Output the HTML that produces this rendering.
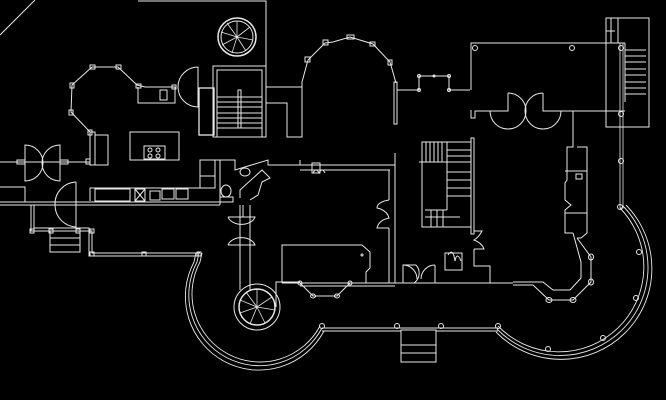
<!DOCTYPE html>
<html><head><meta charset="utf-8"><style>
html,body{margin:0;padding:0;background:#000;width:666px;height:400px;overflow:hidden}
svg{display:block}
</style></head><body>
<svg width="666" height="400" viewBox="0 0 666 400" xmlns="http://www.w3.org/2000/svg" fill="none" stroke="#e8e8e8" stroke-width="1">
<!-- top-left diagonal -->
<line x1="0" y1="35" x2="35" y2="0"/>
<!-- top box -->
<polyline points="138,1 266,1 266,66 213,66"/>
<circle cx="237" cy="37" r="19" stroke-width="1.5"/>
<circle cx="237" cy="37" r="16"/>
<g stroke-width="0.8">
<line x1="237" y1="37" x2="237" y2="21"/><line x1="237" y1="37" x2="250" y2="27"/><line x1="237" y1="37" x2="253" y2="40"/>
<line x1="237" y1="37" x2="246" y2="51"/><line x1="237" y1="37" x2="232" y2="53"/><line x1="237" y1="37" x2="222" y2="45"/>
<line x1="237" y1="37" x2="221" y2="32"/><line x1="237" y1="37" x2="227" y2="23"/></g>
<!-- left bay -->
<polyline points="90,132 71,112 72,85 92,67 118,67 137,85 145,87 175,87"/>
<rect x="88" y="130" width="4" height="5"/><rect x="69" y="110" width="4" height="5"/><rect x="70" y="83" width="4" height="5"/>
<rect x="90" y="65" width="5" height="4"/><rect x="116" y="65" width="5" height="4"/><rect x="136" y="84" width="5" height="4"/><rect x="172" y="85" width="4" height="4"/>
<polyline points="138,87 138,103 175,103 175,87"/>
<rect x="160" y="90" width="7" height="10"/>
<path d="M198,67 A20,20 0 0 0 198,107 Z"/>
<!-- main stair -->
<rect x="213" y="66" width="53" height="71"/>
<rect x="217" y="70" width="45" height="67"/>
<rect x="199" y="88" width="15" height="47" stroke-width="1.3"/>
<g><line x1="217" y1="97" x2="262" y2="97"/><line x1="217" y1="102" x2="262" y2="102"/><line x1="217" y1="107" x2="262" y2="107"/><line x1="217" y1="113" x2="262" y2="113"/><line x1="217" y1="118" x2="262" y2="118"/><line x1="217" y1="123" x2="262" y2="123"/><line x1="217" y1="128" x2="262" y2="128"/></g>
<rect x="238" y="90" width="3" height="38"/>
<!-- right of stair -->
<polyline points="266,87 302,87"/><polyline points="266,103 287,103 287,137 302,137 302,82"/>
<polyline points="302,82 308,60 325,43"/><rect x="305" y="57" width="5" height="5"/><rect x="323" y="40" width="5" height="5"/>
<!-- arch bay -->
<path d="M325,43 L333,42 L350,37 L373,44 L390,62 L396,83"/>
<rect x="347" y="35" width="7" height="4"/><rect x="370" y="42" width="5" height="4"/><rect x="388" y="60" width="4" height="5"/>
<rect x="394" y="82" width="3" height="42"/>
<polyline points="397,90 419,90 419,76 449,76 449,90 470,90"/>
<circle cx="419" cy="76" r="1.5"/><circle cx="449" cy="76" r="1.5"/><circle cx="419" cy="90" r="1.5"/><circle cx="449" cy="90" r="1.5"/><circle cx="434" cy="76" r="1"/>
<!-- big room -->
<polyline points="471,90 471,43 625,43"/>
<polyline points="471,110 471,118 475,118 475,111 508,111 508,93"/>
<path d="M508,93 A18,18 0 0 1 526,111 A18,18 0 0 1 508,129 A18,18 0 0 1 490,111"/>
<path d="M543,93 A18,18 0 0 0 525,111 A18,18 0 0 0 543,129 A18,18 0 0 0 561,111"/>
<polyline points="543,93 543,111 625,111"/>
<circle cx="475" cy="48" r="2.5"/><circle cx="572" cy="48" r="2.5"/><circle cx="621" cy="48" r="2.5"/><circle cx="621" cy="114" r="2.5"/><circle cx="621" cy="161" r="2.5"/>
<!-- right stairs -->
<rect x="606" y="18" width="43" height="109"/><line x1="625" y1="43" x2="625" y2="102"/>
<g><line x1="625" y1="50" x2="646" y2="50"/><line x1="625" y1="56" x2="646" y2="56"/><line x1="625" y1="62" x2="646" y2="62"/><line x1="625" y1="69" x2="646" y2="69"/><line x1="625" y1="75" x2="646" y2="75"/><line x1="625" y1="82" x2="646" y2="82"/><line x1="625" y1="88" x2="646" y2="88"/><line x1="625" y1="94" x2="646" y2="94"/>
<line x1="611" y1="18" x2="611" y2="43"/><line x1="618" y1="18" x2="618" y2="43"/><line x1="606" y1="31" x2="615" y2="31"/></g>
<rect x="620" y="43" width="3" height="165" stroke-width="0.8"/>
<!-- kitchen column right -->
<polyline points="573,111 573,147 567,147 567,180 565,183 565,200 571,205 565,210 565,233 573,233"/>
<polyline points="577,147 587,147 587,233 581,238 577,238"/>
<line x1="565" y1="171" x2="587" y2="171"/><line x1="565" y1="213" x2="587" y2="213"/><rect x="576" y="174" width="6" height="5"/>
<!-- right bay -->
<polyline points="573,233 581,262 581,278 570,290 553,290 543,282 513,282"/>
<polyline points="577,238 591,257 591,282 573,300 549,300 533,285 513,285"/>
<ellipse cx="591" cy="257" rx="2.5" ry="3"/><ellipse cx="591" cy="282" rx="2.5" ry="3"/><ellipse cx="573" cy="300" rx="3" ry="2.5"/><ellipse cx="549" cy="300" rx="3" ry="2.5"/>
<!-- right big arc -->
<g stroke-width="0.9">
<path d="M620,208 A84,84 0 0 1 498,326"/><path d="M623,206 A87,87 0 0 1 497,329"/><path d="M626,205 A90,90 0 0 1 496,332"/></g>
<circle cx="620" cy="207" r="2.5"/><circle cx="639" cy="252" r="2.5"/><circle cx="636" cy="298" r="2.5"/><circle cx="603" cy="338" r="2.5"/><circle cx="548" cy="349" r="2.5"/><circle cx="498" cy="326" r="2.5"/>
<!-- bottom porch -->
<line x1="322" y1="328" x2="498" y2="328"/><line x1="322" y1="331" x2="401" y2="331"/><line x1="436" y1="331" x2="498" y2="331"/>
<circle cx="397" cy="326" r="2.5"/><circle cx="441" cy="326" r="2.5"/><circle cx="322" cy="326" r="2.5"/>
<rect x="401" y="330" width="35" height="32"/><line x1="401" y1="345" x2="436" y2="345"/><line x1="401" y1="353" x2="436" y2="353"/>
<!-- left big arc -->
<g stroke-width="0.9">
<path d="M199,253 L197,262 A70,70 0 1 0 322,328"/><path d="M202,253 L200,262 A67,67 0 1 0 320,326"/><path d="M196,253 L194,262 A73,73 0 1 0 324,331"/></g>
<!-- left walls -->
<line x1="0" y1="162" x2="90" y2="162"/>
<path d="M25,145 A18,18 0 0 1 43,163 A18,18 0 0 1 25,181 Z"/><path d="M60,145 A18,18 0 0 0 42,163 A18,18 0 0 0 60,181 Z"/>
<rect x="17" y="160" width="8" height="4"/><rect x="60" y="160" width="8" height="4"/><rect x="86" y="159" width="4" height="5"/>
<rect x="90" y="132" width="5" height="33"/><rect x="95" y="135" width="13" height="30"/>
<rect x="130" y="132" width="49" height="28"/><rect x="144" y="146" width="21" height="13"/>
<circle cx="150" cy="150" r="2"/><circle cx="158" cy="150" r="2"/><circle cx="150" cy="156" r="2"/><circle cx="158" cy="156" r="2"/>
<line x1="0" y1="202" x2="220" y2="202"/><line x1="0" y1="205" x2="220" y2="205"/>
<polyline points="0,187 25,187 25,202"/>
<path d="M76,182 L76,227 A22,22 0 0 1 55,205 A22,22 0 0 1 76,182"/>
<polyline points="90,201 90,188 215,188 215,160 220,160 220,205"/>
<rect x="95" y="189" width="35" height="12"/><rect x="135" y="189" width="10" height="12"/>
<line x1="135" y1="189" x2="145" y2="201"/><line x1="145" y1="189" x2="135" y2="201"/>
<rect x="150" y="191" width="10" height="9"/><rect x="162" y="189" width="12" height="10"/><rect x="176" y="189" width="12" height="10"/>
<rect x="200" y="160" width="15" height="28"/><line x1="200" y1="176" x2="215" y2="176"/>
<!-- lower left porch -->
<polyline points="31,205 31,231 92,231 92,253 200,253"/><polyline points="34,205 34,228 89,228 89,256 199,256"/>
<rect x="50" y="231" width="30" height="21"/><line x1="50" y1="238" x2="80" y2="238"/><line x1="50" y1="245" x2="80" y2="245"/>
<rect x="30" y="229" width="4" height="4"/><rect x="49" y="229" width="4" height="4"/><rect x="76" y="229" width="4" height="4"/><rect x="90" y="229" width="4" height="4"/><rect x="90" y="252" width="4" height="4"/><rect x="142" y="252" width="4" height="4"/><rect x="197" y="252" width="4" height="4"/>
<!-- bath area -->
<polyline points="220,160 235,160 235,170 268,160 268,165 300,165 300,160"/>
<ellipse cx="245" cy="172" rx="5" ry="4"/><ellipse cx="226" cy="191" rx="5" ry="6"/><rect x="220" y="197" width="13" height="5"/>
<polyline points="240,198 240,190 262,170 270,178 262,182 258,195 250,200"/>
<rect x="312" y="163" width="8" height="10"/><path d="M313,173 q3,-6 6,0 q3,-6 6,0"/>
<line x1="300" y1="165" x2="395" y2="165"/><line x1="300" y1="170" x2="390" y2="170"/>
<!-- hourglass doors + corridor -->
<path d="M228,217 L255,217 A14,10 0 0 1 228,217"/><path d="M228,245 L255,245 A14,10 0 0 0 228,245"/>
<line x1="240" y1="205" x2="240" y2="290"/><line x1="250" y1="205" x2="250" y2="290"/><line x1="243" y1="205" x2="243" y2="217"/>
<!-- spiral bottom -->
<circle cx="257" cy="307" r="18" stroke-width="1.5"/><circle cx="257" cy="307" r="23"/>
<g stroke-width="0.8"><line x1="257" y1="307" x2="257" y2="289"/><line x1="257" y1="307" x2="272" y2="297"/><line x1="257" y1="307" x2="275" y2="310"/><line x1="257" y1="307" x2="265" y2="323"/><line x1="257" y1="307" x2="250" y2="324"/><line x1="257" y1="307" x2="240" y2="313"/><line x1="257" y1="307" x2="240" y2="300"/><line x1="257" y1="307" x2="246" y2="292"/></g>
<polyline points="276,307 276,282 300,282"/>
<!-- center room -->
<polyline points="282,283 282,245 362,245 370,252 370,268 366,272 366,283"/><circle cx="362" cy="255" r="1"/>
<line x1="282" y1="283" x2="490" y2="283"/><line x1="300" y1="286" x2="395" y2="286"/>
<polyline points="300,283 313,296 337,296 350,283"/>
<ellipse cx="313" cy="296" rx="2.5" ry="2"/><ellipse cx="337" cy="296" rx="2.5" ry="2"/><ellipse cx="300" cy="283" rx="2" ry="2"/><ellipse cx="350" cy="283" rx="2" ry="2"/>
<polyline points="490,283 513,283"/>
<!-- middle corridor walls -->
<polyline points="395,153 395,283"/><polyline points="389,170 389,200"/><polyline points="389,228 389,283"/>
<path d="M389,200 q-12,2 -12,8 q10,2 12,10 q-10,2 -12,10 l12,0"/>
<polyline points="403,283 403,265 416,265"/><path d="M416,265 a12,12 0 0 1 -2,18"/>
<path d="M403,265 a14,14 0 0 1 14,14"/>
<polyline points="435,265 435,283"/><path d="M435,265 a14,14 0 0 0 -14,14"/>
<rect x="445" y="253" width="17" height="17"/><path d="M448,255 q5,-8 7,6 q2,-10 6,0"/>
<!-- center stairs -->
<rect x="422" y="142" width="49" height="85"/>
<g><line x1="426" y1="142" x2="426" y2="162"/><line x1="430" y1="142" x2="430" y2="162"/><line x1="434" y1="142" x2="434" y2="162"/><line x1="438" y1="142" x2="438" y2="162"/><line x1="442" y1="142" x2="442" y2="162"/><line x1="419" y1="162" x2="447" y2="162"/>
<line x1="447" y1="142" x2="447" y2="210"/><line x1="447" y1="150" x2="471" y2="150"/><line x1="447" y1="156" x2="471" y2="156"/><line x1="447" y1="162" x2="471" y2="162"/><line x1="447" y1="172" x2="471" y2="172"/><line x1="447" y1="180" x2="471" y2="180"/><line x1="447" y1="188" x2="471" y2="188"/><line x1="447" y1="196" x2="471" y2="196"/>
<line x1="425" y1="210" x2="447" y2="210"/><line x1="425" y1="217" x2="460" y2="217"/><line x1="431" y1="210" x2="431" y2="227"/><line x1="437" y1="210" x2="437" y2="227"/><line x1="443" y1="210" x2="443" y2="227"/></g>
<rect x="471" y="138" width="3" height="96"/>
<path d="M474,231 h8 q-3,6 -8,9 q8,3 10,9 h-10"/>
<polyline points="474,249 474,266 490,266 490,283"/>
</svg>
</body></html>
